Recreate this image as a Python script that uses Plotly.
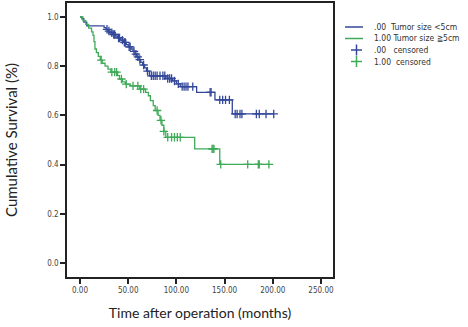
import numpy as np
import plotly.graph_objects as go

# Group .00 : Tumor size <5cm  (event times in months, survival after step)
blue_event_t = [2, 4, 7, 25, 27, 29, 31, 34, 37, 39, 42, 45, 48, 50, 53, 55, 57, 59, 61, 63, 65, 67, 69, 72,
                89, 96, 100, 104, 121, 140, 158]
blue_event_s = [0.993, 0.979, 0.964, 0.957, 0.950, 0.943, 0.936, 0.929, 0.922, 0.915, 0.906, 0.897, 0.888,
                0.879, 0.870, 0.860, 0.849, 0.838, 0.827, 0.816, 0.805, 0.793, 0.780, 0.761,
                0.750, 0.740, 0.728, 0.717, 0.694, 0.663, 0.606]
blue_censor_t = [28, 30, 33, 35, 36, 40, 41, 44, 46, 47, 51, 52, 56, 58, 60, 62, 66, 70, 74, 76, 78, 80, 83,
                 86, 88, 91, 93, 95, 98, 102, 106, 108, 110, 112, 117, 135, 136, 145, 148, 151, 155,
                 161, 163, 166, 168, 183, 186, 193, 201]

# Group 1.00 : Tumor size >=5cm
green_event_t = [3, 6, 9, 12, 13.5, 14.5, 15.5, 17, 19, 21, 23, 26, 29, 32, 39, 41, 44, 47, 52, 62, 68, 71,
                 73, 76, 78, 81, 83, 85, 87, 89, 119, 145]
green_event_s = [0.985, 0.970, 0.955, 0.940, 0.925, 0.900, 0.870, 0.855, 0.840, 0.825, 0.812, 0.800, 0.788,
                 0.776, 0.762, 0.748, 0.736, 0.727, 0.720, 0.707, 0.694, 0.680, 0.660, 0.640, 0.620,
                 0.600, 0.580, 0.560, 0.535, 0.511, 0.464, 0.401]
green_censor_t = [22, 33, 36, 38, 43, 48, 55, 60, 63, 66, 80, 84, 87, 91, 95, 98, 101, 104, 137, 138, 139,
                  146, 174, 185, 186, 196]

x_ticks = [0, 50, 100, 150, 200, 250]
y_ticks = [0.0, 0.2, 0.4, 0.6, 0.8, 1.0]

legend_labels = [".00  Tumor size <5cm", "1.00 Tumor size ≧5cm", ".00   censored", "1.00  censored"]
legend_kinds = ["line", "line", "cross", "cross"]

BLUE = "#34489a"
GREEN = "#3faa58"
legend_colors = [BLUE, GREEN, BLUE, GREEN]

W, H = 468, 327
ML, MR, MT, MB = 67, 135, 3, 50
PW, PH = W - ML - MR, H - MT - MB


def px_to_paper(px, py):
    return (px - ML) / PW, (H - MB - py) / PH


def step_curve(ev_t, ev_s, end_t):
    xs = [0] + list(ev_t) + [end_t]
    ys = [1.0] + list(ev_s) + [ev_s[-1]]
    return xs, ys


def surv_at(ev_t, ev_s, t):
    s = 1.0
    for et, es in zip(ev_t, ev_s):
        if et <= t:
            s = es
    return s


fig = go.Figure()

bx, by = step_curve(blue_event_t, blue_event_s, max(blue_censor_t))
gx, gy = step_curve(green_event_t, green_event_s, max(green_censor_t))

fig.add_trace(go.Scatter(x=bx, y=by, mode="lines", line=dict(color=BLUE, width=1.3, shape="hv"),
                         name=legend_labels[0]))
fig.add_trace(go.Scatter(x=gx, y=gy, mode="lines", line=dict(color=GREEN, width=1.3, shape="hv"),
                         name=legend_labels[1]))
fig.add_trace(go.Scatter(x=blue_censor_t, y=[surv_at(blue_event_t, blue_event_s, t) for t in blue_censor_t],
                         mode="markers", marker=dict(symbol="cross-thin", size=6, line=dict(color=BLUE, width=1.3)),
                         name=legend_labels[2]))
fig.add_trace(go.Scatter(x=green_censor_t, y=[surv_at(green_event_t, green_event_s, t) for t in green_censor_t],
                         mode="markers", marker=dict(symbol="cross-thin", size=6, line=dict(color=GREEN, width=1.3)),
                         name=legend_labels[3]))

axis_common = dict(showgrid=False, zeroline=False, showline=True, linecolor="#222222", linewidth=1.5,
                   mirror=True, ticks="outside", ticklen=5, tickwidth=1.5, tickcolor="#222222",
                   automargin=False,
                   tickfont=dict(family="DejaVu Sans Condensed, DejaVu Sans", size=8, color="#444444"))

fig.update_xaxes(range=[-13.5, 262.5], tickvals=x_ticks, ticktext=[f"{v:.2f}" for v in x_ticks],
                 title=dict(text="Time after operation (months)", font=dict(family="Lato", size=14, color="#222222"),
                            standoff=14),
                 **axis_common)
fig.update_yaxes(range=[-0.057, 1.057], tickvals=y_ticks, ticktext=[f"{v:.1f}" for v in y_ticks],
                 title=dict(text="Cumulative Survival (%)", font=dict(family="Lato", size=15, color="#222222"),
                            standoff=26),
                 **axis_common)

# manual legend (SPSS style, compact rows)
shapes = []
annotations = []
row_y0, row_dy = 27, 11.5
for i, (lab, kind, col) in enumerate(zip(legend_labels, legend_kinds, legend_colors)):
    py = row_y0 + i * row_dy
    if kind == "line":
        x0, y0 = px_to_paper(345, py)
        x1, _ = px_to_paper(363, py)
        shapes.append(dict(type="line", xref="paper", yref="paper", x0=x0, x1=x1, y0=y0, y1=y0,
                           line=dict(color=col, width=1.5)))
    else:
        xa, yc = px_to_paper(351, py)
        xb, _ = px_to_paper(362, py)
        xc, ya = px_to_paper(356.5, py - 5.5)
        _, yb = px_to_paper(356.5, py + 5.5)
        shapes.append(dict(type="line", xref="paper", yref="paper", x0=xa, x1=xb, y0=yc, y1=yc,
                           line=dict(color=col, width=1.5)))
        shapes.append(dict(type="line", xref="paper", yref="paper", x0=xc, x1=xc, y0=ya, y1=yb,
                           line=dict(color=col, width=1.5)))
    tx, ty = px_to_paper(372, py)
    annotations.append(dict(x=tx, y=ty, xref="paper", yref="paper", text=lab, showarrow=False,
                            xanchor="left", yanchor="middle",
                            font=dict(family="DejaVu Sans Condensed", size=8.5, color="#333333")))

fig.update_layout(
    width=W, height=H,
    margin=dict(l=ML, r=MR, t=MT, b=MB, autoexpand=False),
    paper_bgcolor="white", plot_bgcolor="white",
    showlegend=False,
    shapes=shapes,
    annotations=annotations,
)

fig.write_html("out.html", config={"displayModeBar": False},
               post_script="document.body.style.margin='0px';document.body.style.padding='0px';")
